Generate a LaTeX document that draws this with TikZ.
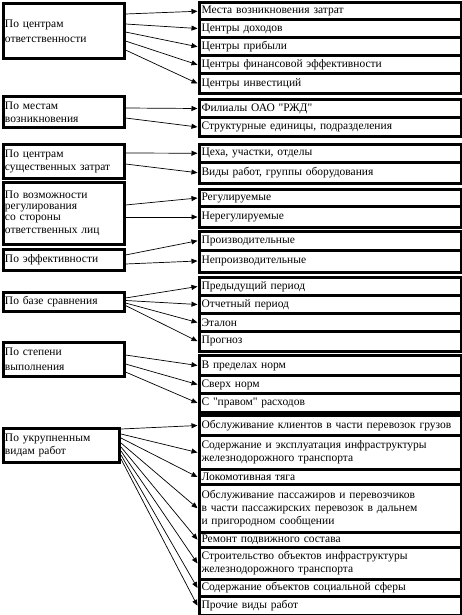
\documentclass[tikz,border=0pt]{standalone}
\usepackage{fontspec}
\setmainfont{Liberation Serif}[Ligatures=TeXOff]
\usetikzlibrary{arrows.meta}
\tikzset{
  lbox/.style={draw, line width=3pt, anchor=north west, inner sep=0pt, align=left,
    font=\fontsize{11.5}{13}\selectfont},
  rbox/.style={lbox, minimum width=262, text width=257},
  arr/.style={-{Triangle[length=6pt,width=5pt]}, line width=0.7pt},
}
\newcommand\RB[4]{\node[rbox, minimum height={#3-#2}] (#1) at (197.5,#2) {#4};}
\newcommand\LB[6]{\node[lbox, minimum width={#4-#2}, minimum height={#5-#3}, text width={#4-#2-4}] (#1) at (#2,#3) {#6};}
\newcommand\AR[3]{\draw[arr] (#1.east |- 0,#2) -- (#3.west);}
\begin{document}
\begin{tikzpicture}[x=1pt,y=-1pt]
\useasboundingbox (0,0) rectangle (462,615);
% left boxes
\LB{L1}{1.5}{2.5}{122.5}{57}{По центрам\\[2pt]ответственности}
\LB{L2}{1.5}{95.5}{122.5}{126}{По местам\\возникновения}
\LB{L3}{1.5}{143}{122.5}{177}{По центрам\\существенных затрат}
\LB{L4}{1.5}{180.5}{122.5}{243}{\fontsize{11.5}{11}\selectfont По возможности\\регулирования\\со стороны\\ответственных лиц}
\LB{L5}{1.5}{247.5}{122.5}{269}{По эффективности}
\LB{L6}{1.5}{291}{122.5}{310}{По базе сравнения}
\LB{L7}{1.5}{341}{122.5}{375}{По степени\\[2pt]выполнения}
\LB{L8}{1.5}{427}{118}{461}{По укрупненным\\видам работ}
% right boxes
\RB{A1}{1.5}{18}{Места возникновения затрат}
\RB{A2}{18}{36}{Центры доходов}
\RB{A3}{36}{54.5}{Центры прибыли}
\RB{A4}{54.5}{72}{Центры финансовой эффективности}
\RB{A5}{72}{92}{Центры инвестиций}
\RB{B1}{98}{116}{Филиалы ОАО "РЖД"}
\RB{B2}{116}{135}{Структурные единицы, подразделения}
\RB{C1}{143}{160.5}{Цеха, участки, отделы}
\RB{C2}{160.5}{182}{Виды работ, группы оборудования}
\RB{D1}{188}{205}{Регулируемые}
\RB{D2}{205}{226}{Нерегулируемые}
\RB{E1}{230}{248.5}{Производительные}
\RB{E2}{248.5}{270.5}{Непроизводительные}
\RB{F1}{276}{294}{Предыдущий период}
\RB{F2}{294}{312}{Отчетный период}
\RB{F3}{312}{330}{Эталон}
\RB{F4}{330}{349.5}{Прогноз}
\RB{G1}{354}{374}{В пределах норм}
\RB{G2}{374}{392}{Сверх норм}
\RB{G3}{392}{411}{С "правом" расходов}
\RB{H1}{414}{434}{Обслуживание клиентов в части перевозок грузов}
\RB{H2}{434}{468}{Содержание и эксплуатация инфраструктуры\\железнодорожного транспорта}
\RB{H3}{468}{483}{Локомотивная тяга}
\RB{H4}{483}{530.5}{Обслуживание пассажиров и перевозчиков\\в части пассажирских перевозок в дальнем\\и пригородном сообщении}
\RB{H5}{530.5}{546}{Ремонт подвижного состава}
\RB{H6}{546}{578}{Строительство объектов инфраструктуры\\железнодорожного транспорта}
\RB{H7}{578}{595}{Содержание объектов социальной сферы}
\RB{H8}{595}{613.5}{Прочие виды работ}
% arrows
\AR{L1}{14}{A1}\AR{L1}{24}{A2}\AR{L1}{32}{A3}\AR{L1}{41}{A4}\AR{L1}{50}{A5}
\AR{L2}{108}{B1}\AR{L2}{118}{B2}
\AR{L3}{153}{C1}\AR{L3}{164}{C2}
\AR{L4}{205}{D1}\AR{L4}{217}{D2}
\AR{L5}{255}{E1}\AR{L5}{264}{E2}
\AR{L6}{298}{F1}\AR{L6}{300.5}{F2}\AR{L6}{303}{F3}\AR{L6}{305.5}{F4}
\AR{L7}{355}{G1}\AR{L7}{364}{G2}\AR{L7}{372}{G3}
\AR{L8}{429}{H1}\AR{L8}{434}{H2}\AR{L8}{438}{H3}\AR{L8}{443}{H4}
\AR{L8}{447}{H5}\AR{L8}{451}{H6}\AR{L8}{455}{H7}\AR{L8}{459}{H8}
\end{tikzpicture}
\end{document}
